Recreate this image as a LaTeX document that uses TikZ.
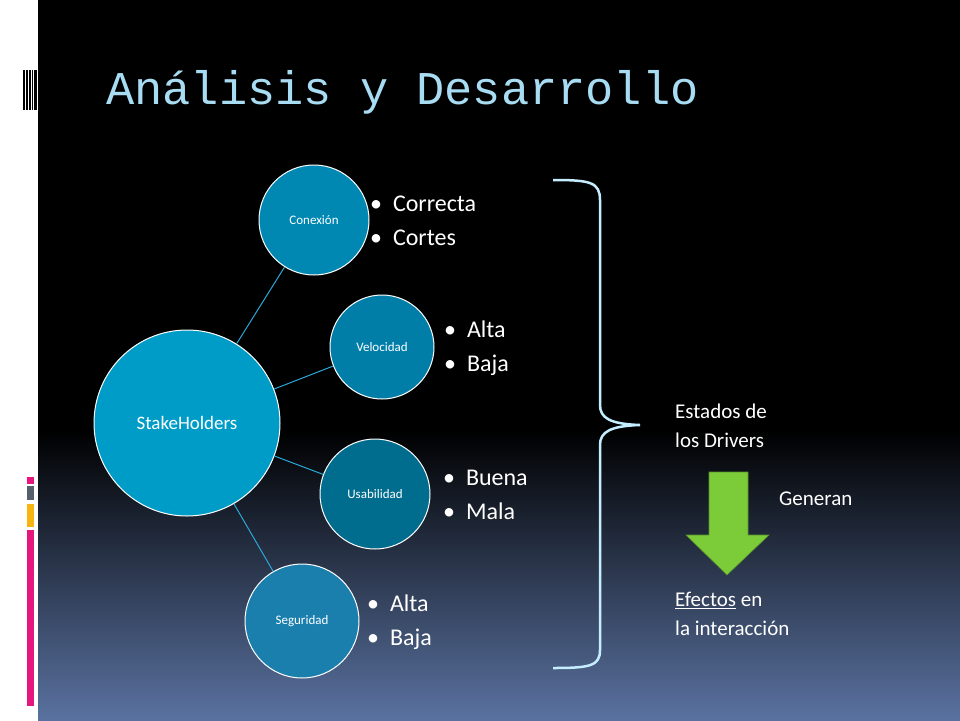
\documentclass[tikz,border=0pt]{standalone}
\usepackage{fontspec}
\setmainfont{Carlito}
\newfontfamily\titlefont{Liberation Mono}
\usetikzlibrary{positioning}
\definecolor{bgbot}{HTML}{5A72A0}
\definecolor{titleblue}{HTML}{A8DCF2}
\definecolor{linkblue}{HTML}{2AA8D8}
\definecolor{bracecol}{HTML}{C4EEFF}
\definecolor{arrowgreen}{HTML}{7CCC3A}
\definecolor{barpink}{HTML}{E5177E}
\definecolor{bargray}{HTML}{56606C}
\definecolor{barorange}{HTML}{F8B411}
\definecolor{shfill}{HTML}{009CC8}
\definecolor{confill}{HTML}{0088B3}
\definecolor{velfill}{HTML}{007EA8}
\definecolor{usafill}{HTML}{006C8E}
\definecolor{segfill}{HTML}{1B7FAE}

\begin{document}
\begin{tikzpicture}[x=1pt,y=-1pt,
  bubble/.style={circle, draw=white, line width=1pt, text=white, font=\fontsize{13}{15}\selectfont, inner sep=0pt},
  items/.style={text=white, font=\fontsize{24}{34}\selectfont, align=left, anchor=west, inner sep=0pt},
  note/.style={text=white, font=\fontsize{21}{29}\selectfont, align=left, anchor=north west, inner sep=0pt},
  link/.style={linkblue, line width=1pt}]
\useasboundingbox (0,0) rectangle (960,720);
% background
\fill[black] (38,0) rectangle (960,430);
\shade[top color=black, bottom color=bgbot] (38,430) rectangle (960,720);
\fill[white] (0,0) rectangle (38,720);
\foreach \x/\w in {23/1.5,26/1.5,29/2,32/1,34/2.5}
  \fill[black] (\x,70) rectangle (\x+\w,110);
\fill[barpink] (27,477) rectangle (34,484);
\fill[bargray] (27,486) rectangle (34,500);
\fill[barorange] (27,504) rectangle (34,527);
\fill[barpink] (27,530) rectangle (34,706);
% title
\node[anchor=west, text=titleblue, font=\titlefont\fontsize{47}{50}\selectfont, inner sep=0pt] (title) at (106,92) {Análisis y Desarrollo};
% bubbles
\node[bubble, fill=shfill, minimum size=186pt, font=\fontsize{19}{22}\selectfont] (sh) at (187,423) {StakeHolders};
\node[bubble, fill=confill, minimum size=110pt] (con) at (314,220) {Conexión};
\node[bubble, fill=velfill, minimum size=104pt] (vel) at (382,347) {Velocidad};
\node[bubble, fill=usafill, minimum size=110pt] (usa) at (375,494) {Usabilidad};
\node[bubble, fill=segfill, minimum size=114pt] (seg) at (302,621) {Seguridad};
\foreach \n in {con,vel,usa,seg}
  \draw[link] (sh) -- (\n);
% lists
\node[items] (l1) at (370,221) {\textbullet\ \ Correcta\\\textbullet\ \ Cortes};
\node[items] (l2) at (444,348) {\textbullet\ \ Alta\\\textbullet\ \ Baja};
\node[items] (l3) at (443,495) {\textbullet\ \ Buena\\\textbullet\ \ Mala};
\node[items] (l4) at (367,622) {\textbullet\ \ Alta\\\textbullet\ \ Baja};
% brace
\draw[bracecol, line width=2.5pt]
  (553,180) .. controls (590,180) and (600,182) .. (600,200)
  -- (600,405) .. controls (600,418) and (610,424) .. (640,425)
  .. controls (610,426) and (600,432) .. (600,445)
  -- (600,650) .. controls (600,666) and (590,668) .. (553,668);
% notes
\node[note] (est) at (675,404) {Estados de\\los Drivers};
\node[note, anchor=west] (gen) at (779,499) {Generan};
\node[note] (efe) at (675,592) {\underline{Efectos} en\\la interacción};
\fill[arrowgreen, draw=arrowgreen!70!black, line width=0.6pt]
  (709,472) -- (748,472) -- (748,535) -- (769,535) -- (727,575) -- (686,535) -- (709,535) -- cycle;
\end{tikzpicture}
\end{document}
